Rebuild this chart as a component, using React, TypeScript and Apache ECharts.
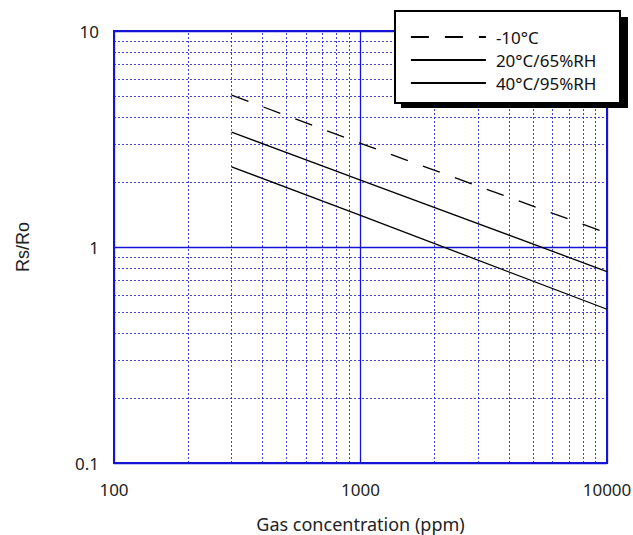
import React, { useEffect, useRef } from "react";
import * as echarts from "echarts";

const seriesNames = ["-10°C", "20°C/65%RH", "40°C/95%RH"];
const concentrations = [300, 1000, 10000];
const valuesMinus10 = [5.05, 3.02, 1.16];
const values20 = [3.4, 2.04, 0.77];
const values40 = [2.35, 1.4, 0.515];
const minorX = [200, 300, 400, 500, 600, 700, 800, 900, 2000, 3000, 4000, 5000, 6000, 7000, 8000, 9000];
const minorY = [0.2, 0.3, 0.4, 0.5, 0.6, 0.7, 0.8, 0.9, 2, 3, 4, 5, 6, 7, 8, 9];

const BLUE = "#1414d2";
const FONT = "Noto Sans";

export default function App() {
  const ref = useRef<HTMLDivElement>(null);
  useEffect(() => {
    if (!ref.current) return;
    const chart = echarts.init(ref.current, undefined, { renderer: "svg" });
    const mk = (vals: number[]) => concentrations.map((c, i) => [c, vals[i]]);
    const lineStyleBase = { color: "#000", width: 1.3 };
    chart.setOption({
      animation: false,
      textStyle: { fontFamily: FONT },
      grid: {
        left: 114,
        right: 26,
        top: 31,
        bottom: 72,
        containLabel: false,
        outerBoundsMode: "none",
        show: true,
        borderColor: BLUE,
        borderWidth: 2,
        backgroundColor: "transparent",
      },
      xAxis: {
        type: "log",
        logBase: 10,
        min: 100,
        max: 10000,
        name: "Gas concentration (ppm)",
        nameLocation: "middle",
        nameGap: 52,
        nameTextStyle: { fontFamily: FONT, fontSize: 18, color: "#222" },
        axisLine: { show: true, lineStyle: { color: BLUE, width: 2 } },
        axisTick: { show: false },
        axisLabel: {
          fontFamily: FONT,
          fontSize: 17,
          color: "#222",
          margin: 18,
          formatter: (v: number) => String(Math.round(v)),
        },
        splitLine: { show: true, lineStyle: { color: BLUE, width: 1.3, type: "solid" } },
      },
      yAxis: {
        type: "log",
        logBase: 10,
        min: 0.1,
        max: 10,
        name: "Rs/Ro",
        nameLocation: "middle",
        nameGap: 82,
        nameTextStyle: { fontFamily: "Liberation Sans", fontSize: 18, color: "#222" },
        axisLine: { show: true, lineStyle: { color: BLUE, width: 2 } },
        axisTick: { show: false },
        axisLabel: {
          fontFamily: FONT,
          fontSize: 17,
          color: "#222",
          margin: 15,
          formatter: (v: number) => (v < 1 ? v.toFixed(1) : String(Math.round(v))),
        },
        splitLine: { show: true, lineStyle: { color: BLUE, width: 1.3, type: "solid" } },
      },
      legend: {
        orient: "vertical",
        left: 410,
        top: 27,
        padding: 0,
        itemWidth: 75,
        itemHeight: 14,
        itemGap: 3,
        z: 20,
        data: seriesNames,
        itemStyle: { opacity: 0 },
        lineStyle: { width: 1.8 },
        textStyle: { fontFamily: FONT, fontSize: 17, color: "#111", lineHeight: 20, padding: [0, 0, 0, 5] },
      },
      graphic: [
        { type: "rect", z: 10, shape: { x: 401, y: 17, width: 227, height: 91 }, style: { fill: "#000" } },
        {
          type: "rect",
          z: 11,
          shape: { x: 395, y: 11, width: 225, height: 92 },
          style: { fill: "#fff", stroke: "#000", lineWidth: 2 },
        },
      ],
      series: [
        {
          name: "minor-grid",
          type: "line",
          data: [],
          silent: true,
          markLine: {
            silent: true,
            symbol: "none",
            label: { show: false },
            lineStyle: { color: BLUE, width: 1, type: [2, 2], opacity: 0.8 },
            data: [
              ...minorX.map((v) => ({ xAxis: v })),
              ...minorY.map((v) => ({ yAxis: v })),
            ],
          },
        },
        {
          name: seriesNames[0],
          type: "line",
          data: mk(valuesMinus10),
          symbol: "none",
          lineStyle: { ...lineStyleBase, type: [18, 16] },
          itemStyle: { color: "#000" },
          z: 5,
        },
        {
          name: seriesNames[1],
          type: "line",
          data: mk(values20),
          symbol: "none",
          lineStyle: { ...lineStyleBase, type: "solid" },
          itemStyle: { color: "#000" },
          z: 5,
        },
        {
          name: seriesNames[2],
          type: "line",
          data: mk(values40),
          symbol: "none",
          lineStyle: { ...lineStyleBase, type: "solid" },
          itemStyle: { color: "#000" },
          z: 5,
        },
      ],
    });
    return () => chart.dispose();
  }, []);
  return (
    <div
      ref={ref}
      style={{ position: "fixed", left: 0, top: 0, width: 633, height: 535, background: "#fff" }}
    />
  );
}
